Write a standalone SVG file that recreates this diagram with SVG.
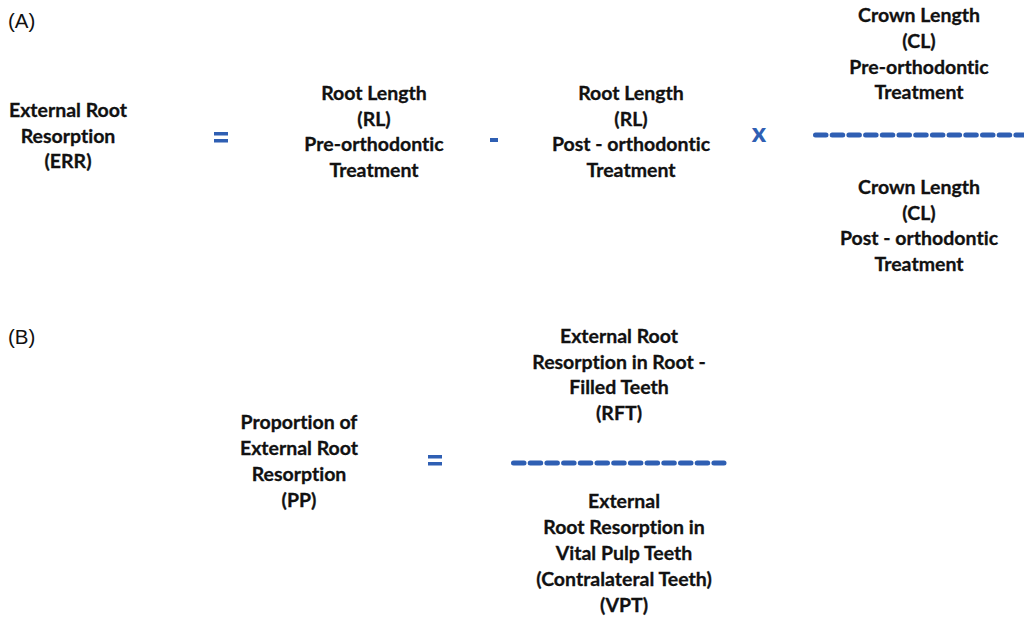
<svg xmlns="http://www.w3.org/2000/svg" width="1024" height="617" viewBox="0 0 1024 617">
<style>
.t{font-family:Lato,"Open Sans","Liberation Sans",sans-serif;font-weight:bold;font-size:19.5px;fill:#111;text-anchor:middle;font-variant-ligatures:none;font-feature-settings:"liga" 0;stroke:#111;stroke-width:0.3}
.lbl{font-family:"Liberation Sans",Arial,sans-serif;font-size:20.5px;fill:#111}
.op{font-family:Lato,"Liberation Sans",sans-serif;font-weight:900;font-size:27px;fill:#2F5FB3;text-anchor:middle}
.bar{stroke:#2F5FB3;stroke-width:5;stroke-linecap:round;stroke-dasharray:10.5 6.2;fill:none}
</style>
<rect width="1024" height="617" fill="#fff"/>
<text class="lbl" x="8" y="28">(A)</text>
<text class="lbl" x="8" y="344">(B)</text>
<g id="err">
<text class="t" x="68" y="117">External Root</text>
<text class="t" x="68" y="143">Resorption</text>
<text class="t" x="68" y="168">(ERR)</text>
</g>
<g id="rl-pre">
<text class="t" x="374" y="100">Root Length</text>
<text class="t" x="374" y="126">(RL)</text>
<text class="t" x="374" y="151">Pre-orthodontic</text>
<text class="t" x="374" y="177">Treatment</text>
</g>
<g id="rl-post">
<text class="t" x="631" y="100">Root Length</text>
<text class="t" x="631" y="126">(RL)</text>
<text class="t" x="631" y="151">Post - orthodontic</text>
<text class="t" x="631" y="177">Treatment</text>
</g>
<g id="cl-pre">
<text class="t" x="919" y="22">Crown Length</text>
<text class="t" x="919" y="48">(CL)</text>
<text class="t" x="919" y="74">Pre-orthodontic</text>
<text class="t" x="919" y="99">Treatment</text>
</g>
<g id="cl-post">
<text class="t" x="919" y="194">Crown Length</text>
<text class="t" x="919" y="220">(CL)</text>
<text class="t" x="919" y="245">Post - orthodontic</text>
<text class="t" x="919" y="271">Treatment</text>
</g>
<g id="pp">
<text class="t" x="299" y="429">Proportion of</text>
<text class="t" x="299" y="455">External Root</text>
<text class="t" x="299" y="481">Resorption</text>
<text class="t" x="299" y="507">(PP)</text>
</g>
<g id="rft">
<text class="t" x="619" y="343">External Root</text>
<text class="t" x="619" y="369">Resorption in Root -</text>
<text class="t" x="619" y="394">Filled Teeth</text>
<text class="t" x="619" y="420">(RFT)</text>
</g>
<g id="vpt">
<text class="t" x="624" y="508">External</text>
<text class="t" x="624" y="534">Root Resorption in</text>
<text class="t" x="624" y="560">Vital Pulp Teeth</text>
<text class="t" x="624" y="586">(Contralateral Teeth)</text>
<text class="t" x="624" y="612">(VPT)</text>
</g>
<g id="connectors">
<rect x="214" y="132" width="14" height="3.5" fill="#2F5FB3"/>
<rect x="214" y="139" width="14" height="3.5" fill="#2F5FB3"/>
<rect x="490" y="138" width="8" height="4" fill="#2F5FB3"/>
<text class="op" x="759" y="142">x</text>
<line class="bar" x1="815.5" y1="135" x2="1030" y2="135"/>
<rect x="428" y="455" width="14" height="3.5" fill="#2F5FB3"/>
<rect x="428" y="462" width="14" height="3.5" fill="#2F5FB3"/>
<line class="bar" x1="513.5" y1="463" x2="724" y2="463"/>
</g>
</svg>
